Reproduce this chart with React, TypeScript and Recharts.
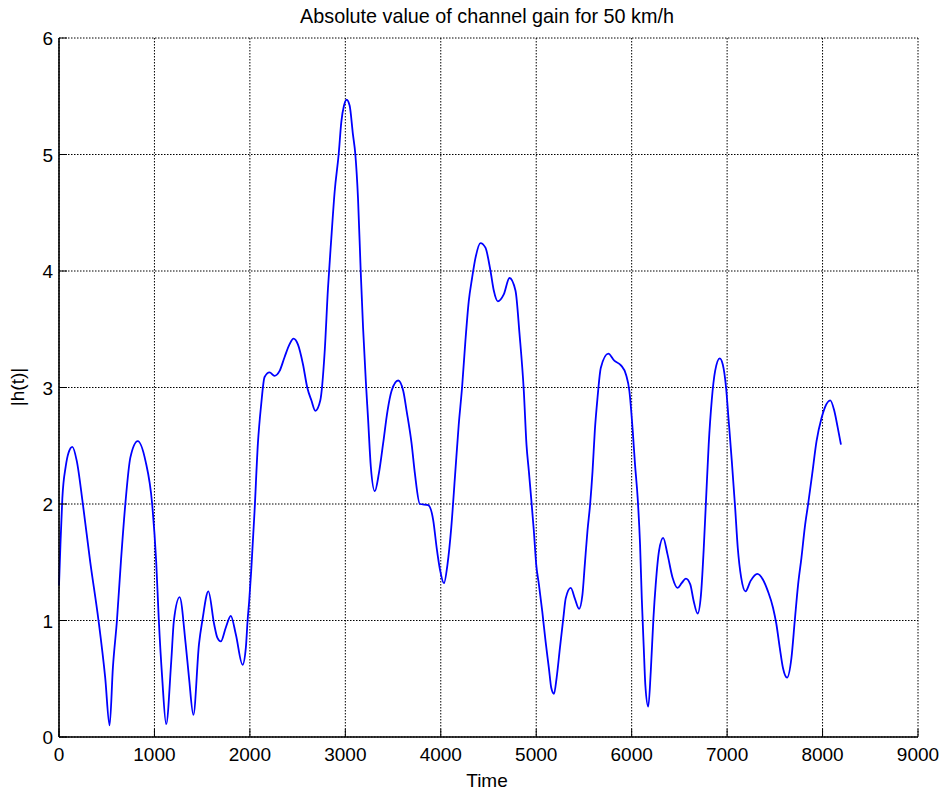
import React from "react";
import { CartesianGrid, Line, LineChart, XAxis, YAxis } from "recharts";

const TIME = [
  0, 15, 35, 70, 100, 140, 186, 250, 326, 414, 484, 530, 565, 607, 649, 695, 748, 825, 906, 976,
  1018, 1046, 1081, 1123, 1176, 1204, 1264, 1327, 1362, 1408, 1467, 1502, 1565, 1625, 1660, 1695, 1748, 1800, 1853, 1923,
  1958, 1976, 1993, 2014, 2049, 2084, 2119, 2154, 2206, 2258, 2310, 2363, 2415, 2457, 2503, 2556, 2601, 2644, 2686, 2738,
  2783, 2818, 2853, 2888, 2930, 2958, 2986, 3014, 3045, 3080, 3105, 3133, 3161, 3186, 3215, 3239, 3267, 3309, 3351, 3396,
  3442, 3484, 3554, 3607, 3642, 3694, 3729, 3781, 3869, 3921, 3956, 3991, 4033, 4070, 4110, 4150, 4188, 4223, 4258, 4293,
  4328, 4363, 4416, 4468, 4521, 4556, 4598, 4660, 4720, 4783, 4825, 4870, 4898, 4923, 4947, 4975, 5000, 5028, 5063, 5098,
  5133, 5158, 5186, 5214, 5249, 5284, 5309, 5362, 5404, 5449, 5484, 5509, 5537, 5565, 5590, 5614, 5642, 5677, 5755, 5818,
  5888, 5941, 5976, 6011, 6035, 6063, 6088, 6106, 6127, 6143, 6174, 6200, 6228, 6252, 6287, 6330, 6375, 6428, 6481, 6523,
  6568, 6614, 6649, 6691, 6726, 6754, 6779, 6807, 6839, 6874, 6923, 6954, 6989, 7014, 7049, 7084, 7112, 7147, 7193, 7246,
  7316, 7376, 7428, 7481, 7516, 7551, 7586, 7628, 7674, 7709, 7744, 7779, 7814, 7849, 7892, 7937, 7990, 8025, 8081, 8123,
  8158, 8193,
];

const GAIN = [
  1.3, 1.65, 2.05, 2.32, 2.44, 2.49, 2.37, 2.0, 1.51, 1.0, 0.51, 0.1, 0.6, 1.0, 1.51, 2.0, 2.4, 2.54, 2.37, 2.0,
  1.51, 1.0, 0.51, 0.11, 0.65, 1.0, 1.2, 0.8, 0.51, 0.19, 0.8, 1.0, 1.25, 0.97, 0.85, 0.82, 0.94, 1.04, 0.88, 0.62,
  0.77, 1.0, 1.17, 1.43, 1.94, 2.52, 2.86, 3.09, 3.13, 3.1, 3.14, 3.26, 3.37, 3.42, 3.37, 3.2, 3.0, 2.89, 2.8, 2.89,
  3.3, 3.85, 4.28, 4.68, 5.0, 5.28, 5.42, 5.47, 5.42, 5.17, 5.0, 4.62, 4.0, 3.51, 3.05, 2.72, 2.32, 2.11, 2.26, 2.52,
  2.8, 2.97, 3.06, 2.97, 2.8, 2.52, 2.26, 2.0, 1.99, 1.86, 1.63, 1.44, 1.32, 1.48, 1.8, 2.25, 2.68, 3.0, 3.4, 3.74,
  3.94, 4.11, 4.24, 4.2, 4.0, 3.83, 3.74, 3.8, 3.94, 3.83, 3.46, 2.97, 2.51, 2.28, 2.05, 1.77, 1.48, 1.31, 1.08, 0.82,
  0.59, 0.42, 0.37, 0.51, 0.77, 1.02, 1.19, 1.28, 1.19, 1.1, 1.22, 1.48, 1.77, 2.0, 2.28, 2.63, 2.91, 3.17, 3.29, 3.23,
  3.19, 3.11, 2.97, 2.63, 2.34, 2.05, 1.65, 1.19, 0.76, 0.45, 0.26, 0.56, 1.02, 1.31, 1.6, 1.71, 1.57, 1.37, 1.28, 1.32,
  1.36, 1.31, 1.17, 1.06, 1.22, 1.6, 2.03, 2.51, 2.89, 3.14, 3.25, 3.2, 3.0, 2.74, 2.37, 1.97, 1.62, 1.37, 1.25, 1.34,
  1.4, 1.35, 1.25, 1.11, 0.97, 0.77, 0.59, 0.51, 0.68, 1.0, 1.31, 1.54, 1.8, 2.0, 2.26, 2.54, 2.74, 2.83, 2.89, 2.8,
  2.66, 2.51,
];

const X_TICKS = [0, 1000, 2000, 3000, 4000, 5000, 6000, 7000, 8000, 9000];
const Y_TICKS = [0, 1, 2, 3, 4, 5, 6];

const TITLE = "Absolute value of channel gain for 50 km/h";
const X_LABEL = "Time";
const Y_LABEL = "|h(t)|";

const data = TIME.map((t, i) => ({ t, h: GAIN[i] }));

const FONT = "'Liberation Sans', Arial, Helvetica, sans-serif";
const FS = 19;
const TICK_LEN = 8;

function LeftTick({ x, y, payload }: any) {
  return (
    <g>
      <line x1={x} x2={x + TICK_LEN} y1={y} y2={y} stroke="#000" />
      <text x={x - 6} y={y + 7} textAnchor="end" fontFamily={FONT} fontSize={FS} fill="#000">
        {payload.value}
      </text>
    </g>
  );
}

function RightTick({ x, y }: any) {
  return <line x1={x} x2={x - TICK_LEN} y1={y} y2={y} stroke="#000" />;
}

function BottomTick({ x, y, payload }: any) {
  return (
    <g>
      <line x1={x} x2={x} y1={y} y2={y - TICK_LEN} stroke="#000" />
      <text x={x} y={y + 24} textAnchor="middle" fontFamily={FONT} fontSize={FS} fill="#000">
        {payload.value}
      </text>
    </g>
  );
}

function TopTick({ x, y }: any) {
  return <line x1={x} x2={x} y1={y} y2={y + TICK_LEN} stroke="#000" />;
}

export default function App() {
  const W = 942;
  const H = 796;
  return (
    <div style={{ position: "absolute", left: 0, top: 0, width: W, height: H, background: "#fff" }}>
      <LineChart width={W} height={H} data={data} margin={{ top: 38, right: 24, left: 0, bottom: 0 }}>
        <CartesianGrid
          xAxisId="b"
          yAxisId="l"
          stroke="#000"
          strokeDasharray="1.5 1.5"
          verticalValues={X_TICKS}
          horizontalValues={Y_TICKS}
        />
        <XAxis
          xAxisId="b"
          dataKey="t"
          type="number"
          domain={[0, 9000]}
          ticks={X_TICKS}
          height={59}
          tickSize={0}
          tickMargin={0}
          tickLine={false}
          axisLine={{ stroke: "#000", strokeWidth: 1.6 }}
          tick={BottomTick}
          interval={0}
        />
        <XAxis
          xAxisId="t"
          orientation="top"
          dataKey="t"
          type="number"
          domain={[0, 9000]}
          ticks={X_TICKS}
          height={0}
          tickSize={0}
          tickMargin={0}
          tickLine={false}
          axisLine={{ stroke: "#000", strokeWidth: 1.6 }}
          tick={TopTick}
          interval={0}
        />
        <YAxis
          yAxisId="l"
          type="number"
          domain={[0, 6]}
          ticks={Y_TICKS}
          width={59}
          tickSize={0}
          tickMargin={0}
          tickLine={false}
          axisLine={{ stroke: "#000", strokeWidth: 1.6 }}
          tick={LeftTick}
          interval={0}
        />
        <YAxis
          yAxisId="r"
          orientation="right"
          type="number"
          domain={[0, 6]}
          ticks={Y_TICKS}
          width={0}
          tickSize={0}
          tickMargin={0}
          tickLine={false}
          axisLine={{ stroke: "#000", strokeWidth: 1.6 }}
          tick={RightTick}
          interval={0}
        />
        <Line
          xAxisId="b"
          yAxisId="l"
          type="monotone"
          dataKey="h"
          stroke="#0000ff"
          strokeWidth={1.8}
          dot={false}
          isAnimationActive={false}
        />
      </LineChart>
      <svg
        width={W}
        height={H}
        style={{ position: "absolute", left: 0, top: 0, pointerEvents: "none" }}
      >
        <text x={487} y={23} textAnchor="middle" fontFamily={FONT} fontSize={19.8} fill="#000">
          {TITLE}
        </text>
        <text x={487} y={787} textAnchor="middle" fontFamily={FONT} fontSize={FS} fill="#000">
          {X_LABEL}
        </text>
        <text
          x={0}
          y={0}
          transform="translate(24 387) rotate(-90)"
          textAnchor="middle"
          fontFamily={FONT}
          fontSize={FS}
          fill="#000"
        >
          {Y_LABEL}
        </text>
      </svg>
    </div>
  );
}
